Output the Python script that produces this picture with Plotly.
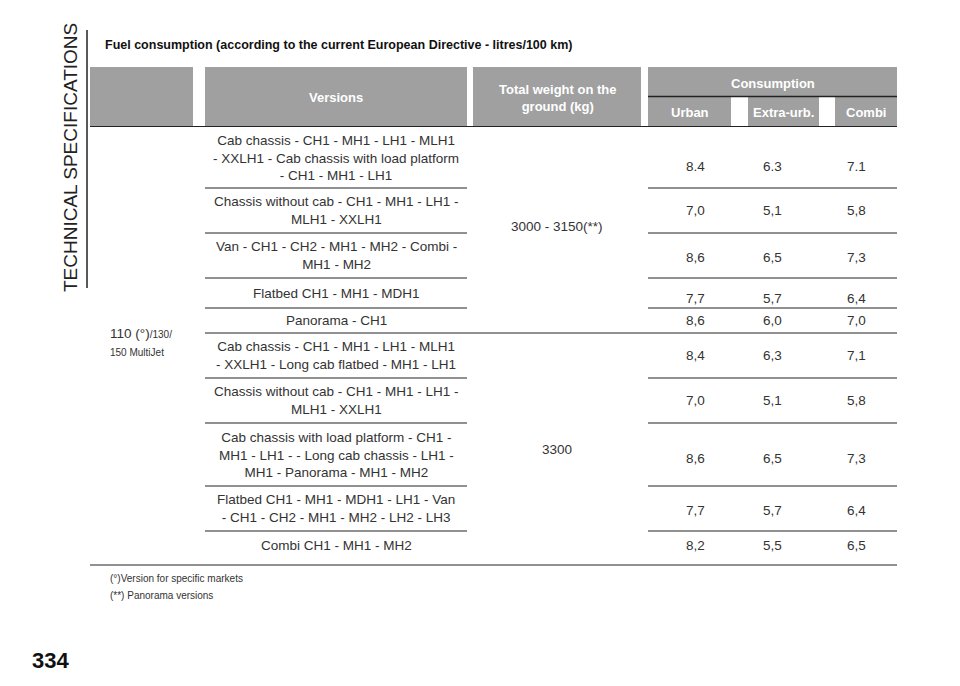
import plotly.graph_objects as go

# Table content ---------------------------------------------------------------
versions = [
    "Cab chassis - CH1 - MH1 - LH1 - MLH1<br>- XXLH1 - Cab chassis with load platform<br>- CH1 - MH1 - LH1",
    "Chassis without cab - CH1 - MH1 - LH1 -<br>MLH1 - XXLH1",
    "Van - CH1 - CH2 - MH1 - MH2 - Combi -<br>MH1 - MH2",
    "Flatbed CH1 - MH1 - MDH1",
    "Panorama - CH1",
    "Cab chassis - CH1 - MH1 - LH1 - MLH1<br>- XXLH1 - Long cab flatbed - MH1 - LH1",
    "Chassis without cab - CH1 - MH1 - LH1 -<br>MLH1 - XXLH1",
    "Cab chassis with load platform - CH1 -<br>MH1 - LH1 - - Long cab chassis - LH1 -<br>MH1 - Panorama - MH1 - MH2",
    "Flatbed CH1 - MH1 - MDH1 - LH1 - Van<br>- CH1 - CH2 - MH1 - MH2 - LH2 - LH3",
    "Combi CH1 - MH1 - MH2",
]
urban = ["8.4", "7,0", "8,6", "7,7", "8,6", "8,4", "7,0", "8,6", "7,7", "8,2"]
extra_urb = ["6.3", "5,1", "6,5", "5,7", "6,0", "6,3", "5,1", "6,5", "5,7", "5,5"]
combi = ["7.1", "5,8", "7,3", "6,4", "7,0", "7,1", "5,8", "7,3", "6,4", "6,5"]
weights = ["3000 - 3150(**)", "3300"]
weight_rows = [(0, 4), (5, 9)]
engine = "110 (°)<span style='font-size:10px'>/130/<br>150 MultiJet</span>"
headers = ["Versions", "Total weight on the<br>ground (kg)"]
sub_headers = ["Urban", "Extra-urb.", "Combi"]

# Layout geometry (page pixels) -----------------------------------------------
row_edges = [126, 188, 233, 278, 308, 333, 378, 423, 486, 531, 565]
num_y = [166, 210, 257, 298, 320, 355, 400, 458, 510, 545]
ver_y = [158, 210, 255, 293, 320, 355, 400, 455, 508, 545]
col0, col1, col2, cons = (90, 193), (205, 467), (473, 641), (648, 897)
subs = [(648, 731), (748, 819), (835, 897)]
num_x = [695, 772, 856]
OFF = 8  # page body margin in the browser

GRAY = "#a0a0a0"
TXT = "#333333"
FONT = "Liberation Sans"

fig = go.Figure()
shapes = []
ann = []

def rect(x0, x1, y0, y1):
    shapes.append(dict(type="rect", xref="x", yref="y", x0=x0, x1=x1, y0=y0, y1=y1,
                       fillcolor=GRAY, line=dict(width=0), layer="below"))

def hline(x0, x1, y, w=1.2):
    shapes.append(dict(type="line", xref="x", yref="y", x0=x0, x1=x1, y0=y, y1=y,
                       line=dict(color="#222222", width=w)))

def text(x, y, s, size=13, color=TXT, bold=False, anchor="center", angle=0):
    if bold:
        s = "<b>" + s + "</b>"
    ann.append(dict(x=x, y=y, xref="x", yref="y", text=s, showarrow=False,
                    xanchor=anchor, yanchor="middle", textangle=angle, align="center",
                    font=dict(family=FONT, size=size, color=color)))

# Header
rect(*col0, 67, 126)
rect(*col1, 67, 126)
rect(*col2, 67, 126)
rect(*cons, 67, 96)
for s in subs:
    rect(s[0], s[1], 97, 126)
hline(cons[0], cons[1], 96.5, 1.5)
hline(col0[0], cons[1], 126.5, 1)
text(sum(col1) / 2, 97, headers[0], bold=True, color="white")
text(sum(col2) / 2, 98, headers[1], bold=True, color="white")
text(sum(cons) / 2, 83, "Consumption", bold=True, color="white")
for s, h in zip(subs, sub_headers):
    text(sum(s) / 2, 112, h, bold=True, color="white")

# Body
for i, v in enumerate(versions):
    text(sum(col1) / 2, ver_y[i], v, size=13.5)
    for x, vals in zip(num_x, (urban, extra_urb, combi)):
        text(x, num_y[i], vals[i], size=13.5)
    yb = row_edges[i + 1]
    if i == len(versions) - 1:
        hline(col0[0], cons[1], yb)
    elif i == 4:
        hline(col1[0], cons[1], yb)
    else:
        hline(col1[0], col1[1], yb)
        hline(cons[0], cons[1], yb)
for w, (a, b) in zip(weights, weight_rows):
    text(sum(col2) / 2, (row_edges[a] + row_edges[b + 1]) / 2 + (-3 if a == 0 else 0), w, size=13.5)
ann.append(dict(x=108, y=342, xref="x", yref="y", text=engine, showarrow=False,
                xanchor="left", yanchor="middle", align="left",
                font=dict(family=FONT, size=13.5, color=TXT)))

# Page decoration
text(103, 45, "Fuel consumption (according to the current European Directive - litres/100 km)",
     size=12.5, color="#111111", bold=True, anchor="left")
text(70, 158, "TECHNICAL SPECIFICATIONS", size=19, color="#222222", angle=-90)
shapes.append(dict(type="line", xref="x", yref="y", x0=87, x1=87, y0=30, y1=288,
                   line=dict(color="#222222", width=1.5)))
text(30, 660, "334", size=22, color="#111111", bold=True, anchor="left")
text(108, 578, "(°)Version for specific markets", size=10, anchor="left")
text(108, 595, "(**) Panorama versions", size=10, anchor="left")

fig.update_layout(
    width=960, height=686, margin=dict(l=0, r=0, t=0, b=0),
    paper_bgcolor="white", plot_bgcolor="white",
    xaxis=dict(range=[OFF, 960 + OFF], visible=False, fixedrange=True),
    yaxis=dict(range=[686 + OFF, OFF], visible=False, fixedrange=True),
    shapes=shapes, annotations=ann, showlegend=False,
)
fig.write_html("out.html")
